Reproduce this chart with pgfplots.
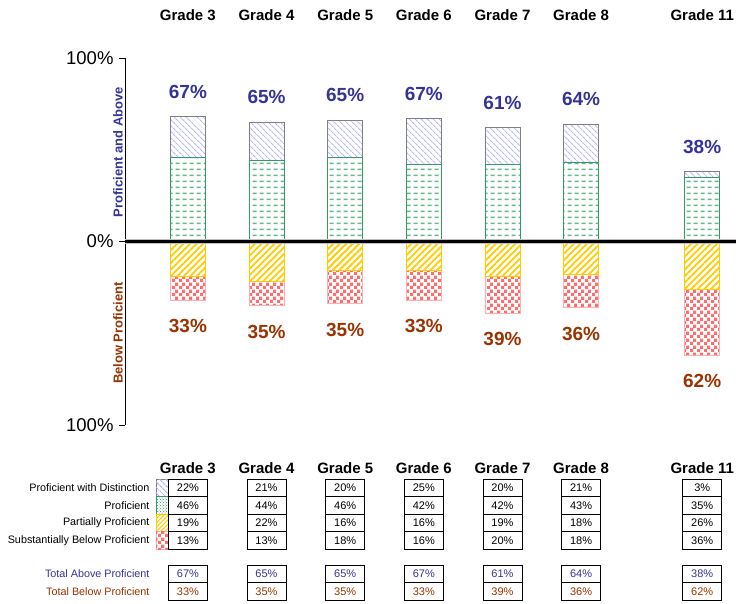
\documentclass[border=0pt]{standalone}
\usepackage{pgfplots}
\pgfplotsset{compat=1.18}
\usepackage{pgfplotstable}
\usepackage{fontspec}
\setmainfont{Liberation Sans}
\usetikzlibrary{patterns,patterns.meta}

\definecolor{abovec}{RGB}{51,51,153}
\definecolor{belowc}{RGB}{153,51,0}
\definecolor{distc}{RGB}{185,185,250}
\definecolor{profc}{RGB}{51,153,102}
\definecolor{profpat}{RGB}{100,185,140}
\definecolor{partc}{RGB}{255,204,0}
\definecolor{subc}{RGB}{255,110,110}

% checkerboard and dash fills like the spreadsheet ones
\pgfdeclarepatternformonly{checker}{\pgfqpoint{0pt}{0pt}}{\pgfqpoint{6.6pt}{6.6pt}}{\pgfqpoint{6.6pt}{6.6pt}}{%
  \pgfpathrectangle{\pgfqpoint{0pt}{0pt}}{\pgfqpoint{3.3pt}{3.3pt}}%
  \pgfpathrectangle{\pgfqpoint{3.3pt}{3.3pt}}{\pgfqpoint{3.3pt}{3.3pt}}%
  \pgfusepath{fill}}
\pgfdeclarepatternformonly{dashes}{\pgfqpoint{0pt}{0pt}}{\pgfqpoint{7pt}{6.2pt}}{\pgfqpoint{7pt}{6.2pt}}{%
  \pgfsetlinewidth{1.8pt}%
  \pgfpathmoveto{\pgfqpoint{0.8pt}{3pt}}\pgfpathlineto{\pgfqpoint{5.2pt}{3pt}}%
  \pgfusepath{stroke}}

\tikzset{
  distfill/.style={fill=white, postaction={pattern={Lines[angle=-45,distance=4pt,line width=1.2pt]}, pattern color=distc}},
  proffill/.style={fill=white, postaction={pattern=dashes, pattern color=profpat}},
  partfill/.style={fill=white, postaction={pattern={Lines[angle=45,distance=4.6pt,line width=1.8pt]}, pattern color=partc}},
  subfill/.style={fill=white, postaction={pattern=checker, pattern color=subc}},
}

\pgfplotstableread{
x    prof dist total
0    46   22   67
1    44   21   65
2    46   20   65
3    42   25   67
4    42   20   61
5    43   21   64
6.54 35   3    38
}\abovetbl

\pgfplotstableread{
x    part sub total
0    19   13   33
1    22   13   35
2    16   18   35
3    16   16   33
4    19   20   39
5    18   18   36
6.54 26   36   62
}\belowtbl

\newcommand{\hdr}{\bfseries\fontsize{15}{15}\selectfont}
\newcommand{\cell}[5]{%
  \draw[line width=0.9pt] ({(#1-19.5)*1pt},{(603-#2)*1pt}) rectangle ({(#1+19.5)*1pt},{(603-#3)*1pt});
  \node[font=\fontsize{11}{11}\selectfont, text=#5] at ({#1*1pt},{(603-(#2+#3)/2)*1pt}) {#4\%};}

\pgfplotsset{
  geom/.style={
    at={(125pt,178pt)}, anchor=south west,
    scale only axis, width=611pt, height=367pt,
    xmin=-0.8, xmax=6.97, ymin=-100, ymax=100,
    enlargelimits=false, clip=false,
  },
  barbase/.style={geom, ybar stacked, bar width=35pt},
  totlabel/.style={draw=none, mark=none, point meta=explicit,
    nodes near coords={\pgfmathprintnumber[assume math mode=true]{\pgfplotspointmeta}\%},
    every node near coord/.append style={font=\bfseries\fontsize{19}{19}\selectfont,
      text=#1, anchor=center}},
}

\begin{document}
\begin{tikzpicture}
\path[use as bounding box] (0,0) rectangle (736pt,603pt);

% positive part
\begin{axis}[barbase,
  axis y line*=left, axis x line=none,
  xtick=\empty,
  ytick={-100,0,100}, yticklabels={100\%,0\%,100\%},
  tick align=outside, major tick length=6pt,
  tick style={black, line width=0.8pt},
  y axis line style={line width=0.8pt},
  yticklabel style={font=\fontsize{18.5}{18.5}\selectfont, xshift=-2pt},
]
\addplot[draw=profc, line width=0.8pt, proffill] table[x=x, y=prof]{\abovetbl};
\addplot[draw=gray, line width=0.8pt, distfill] table[x=x, y=dist]{\abovetbl};
\end{axis}

% negative part
\begin{axis}[barbase, hide axis]
\addplot[draw=partc, line width=0.8pt, partfill] table[x=x, y expr=-\thisrow{part}]{\belowtbl};
\addplot[draw=subc!55, line width=0.8pt, subfill] table[x=x, y expr=-\thisrow{sub}]{\belowtbl};
\end{axis}

% total labels
\begin{axis}[geom, hide axis]
\addplot[totlabel=abovec, every node near coord/.append style={yshift=25pt}]
  table[x=x, y expr=\thisrow{prof}+\thisrow{dist}, meta=total]{\abovetbl};
\addplot[totlabel=belowc, every node near coord/.append style={yshift=-26pt}]
  table[x=x, y expr=-\thisrow{part}-\thisrow{sub}, meta=total]{\belowtbl};
\end{axis}

% zero line
\draw[black!25, line width=5pt] (125pt,361.5pt) -- (736pt,361.5pt);
\draw[black, line width=2.4pt] (125pt,361.5pt) -- (736pt,361.5pt);

% axis titles
\node[rotate=90, font=\bfseries\fontsize{13}{13}\selectfont, text=abovec] at (118pt,451pt) {Proficient and Above};
\node[rotate=90, font=\bfseries\fontsize{13}{13}\selectfont, text=belowc] at (118pt,270pt) {Below Proficient};

% legend of the table
\begin{scope}[font=\fontsize{10.8}{10.8}\selectfont]
\node[anchor=east] at (153pt,{(603-488)*1pt}) {Proficient with Distinction};
\node[anchor=east] at (153pt,{(603-505.5)*1pt}) {Proficient};
\node[anchor=east] at (153pt,{(603-523)*1pt}) {Partially Proficient};
\node[anchor=east] at (153pt,{(603-540.5)*1pt}) {Substantially Below Proficient};
\node[anchor=east, text=abovec] at (153pt,{(603-574)*1pt}) {Total Above Proficient};
\node[anchor=east, text=belowc] at (153pt,{(603-591.5)*1pt}) {Total Below Proficient};
\end{scope}
\draw[gray, distfill] (156pt,{(603-479)*1pt}) rectangle (168pt,{(603-496.5)*1pt});
\draw[profc, fill=white, postaction={pattern=crosshatch dots, pattern color=profc}] (156pt,{(603-496.5)*1pt}) rectangle (168pt,{(603-514)*1pt});
\draw[partc, fill=white, postaction={pattern={Lines[angle=45,distance=3pt,line width=1pt]}, pattern color=partc}] (156pt,{(603-514)*1pt}) rectangle (168pt,{(603-531.5)*1pt});
\draw[subc!55, subfill] (156pt,{(603-531.5)*1pt}) rectangle (168pt,{(603-549)*1pt});

% headers and table cells
\foreach \cx/\g/\a/\b/\c/\d/\ta/\tb in {187.9/3/22/46/19/13/67/33, 266.5/4/21/44/22/13/65/35,
    345.2/5/20/46/16/18/65/35, 423.8/6/25/42/16/16/67/33, 502.5/7/20/42/19/20/61/39,
    581.1/8/21/43/18/18/64/36, 702.2/11/3/35/26/36/38/62}{
  \node[font=\hdr] at ({\cx*1pt},587.5pt) {Grade \g};
  \node[font=\hdr] at ({\cx*1pt},135pt) {Grade \g};
  \cell{\cx}{479}{496.5}{\a}{black}
  \cell{\cx}{496.5}{514}{\b}{black}
  \cell{\cx}{514}{531.5}{\c}{black}
  \cell{\cx}{531.5}{549}{\d}{black}
  \cell{\cx}{565}{582.5}{\ta}{abovec}
  \cell{\cx}{582.5}{600}{\tb}{belowc}
}
\end{tikzpicture}
\end{document}
